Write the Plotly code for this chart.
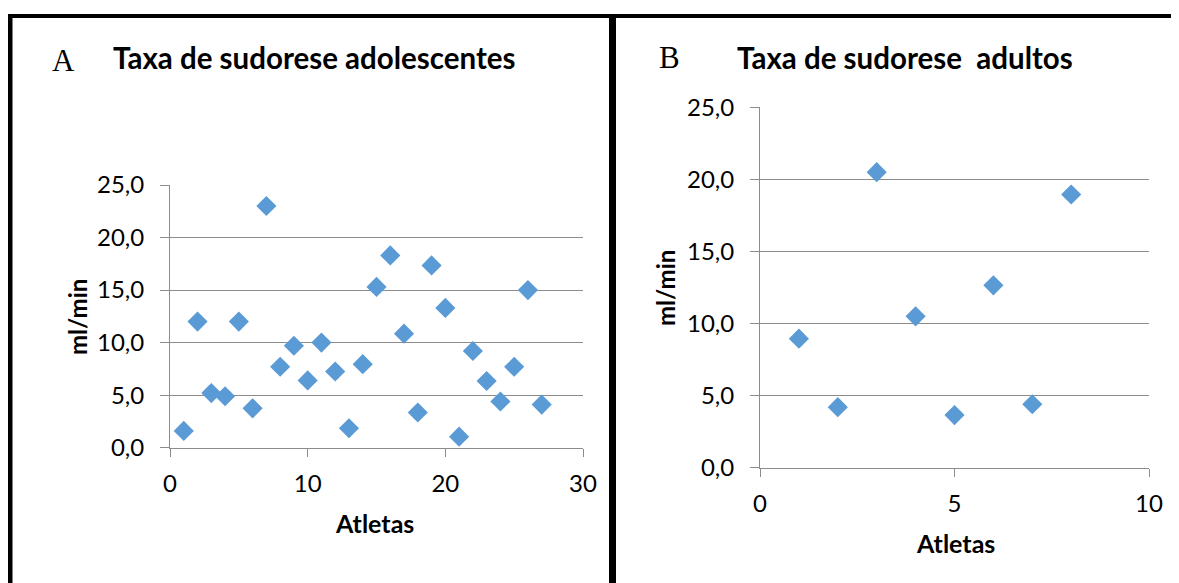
import plotly.graph_objects as go

# Panel A: adolescents
atletas_a = list(range(1, 28))
taxa_a = [1.6, 12.0, 5.2, 4.9, 12.0, 3.75, 23.0, 7.7, 9.7, 6.4, 10.0, 7.25, 1.85, 7.95,
          15.3, 18.3, 10.85, 3.35, 17.35, 13.3, 1.05, 9.2, 6.35, 4.4, 7.7, 15.0, 4.1]

# Panel B: adults
atletas_b = list(range(1, 9))
taxa_b = [8.95, 4.2, 20.5, 10.5, 3.65, 12.65, 4.4, 18.95]

titulo_a = "Taxa de sudorese adolescentes"
titulo_b = "Taxa de sudorese  adultos"
rotulo_x = "Atletas"
rotulo_y = "ml/min"

W, H = 1179, 583
OFF = 8  # page body margin
def px(x):
    return (x - OFF) / W
def py(y):
    return 1 - (y - OFF) / H

MARK = "#5B9BD5"
GRID = "#8C8C8C"
FONT = "Lato, 'Open Sans', sans-serif"
TICKFONT = dict(family=FONT, size=24, color="#000000")

fig = go.Figure()
fig.add_trace(go.Scatter(x=atletas_a, y=taxa_a, mode="markers", xaxis="x", yaxis="y",
                         marker=dict(symbol="diamond", size=15.5, color=MARK), showlegend=False))
fig.add_trace(go.Scatter(x=atletas_b, y=taxa_b, mode="markers", xaxis="x2", yaxis="y2",
                         marker=dict(symbol="diamond", size=15.5, color=MARK), showlegend=False))

def xaxis(domain, rng, dtick, anchor):
    return dict(domain=domain, range=rng, dtick=dtick, tick0=0, anchor=anchor,
                showgrid=False, zeroline=False, showline=True, linecolor=GRID, linewidth=1,
                ticks="outside", ticklen=8, tickcolor=GRID, tickwidth=1, automargin=False,
                tickfont=TICKFONT, ticklabelstandoff=6, fixedrange=True)

def yaxis(domain, anchor):
    return dict(domain=domain, range=[0, 25], dtick=5, tick0=0, anchor=anchor,
                showgrid=True, gridcolor=GRID, gridwidth=1, zeroline=False,
                showline=True, linecolor=GRID, linewidth=1, automargin=False,
                ticks="outside", ticklen=9, tickcolor=GRID, tickwidth=1,
                tickformat=".1f",
                tickfont=TICKFONT, ticklabelstandoff=11, fixedrange=True)

fig.update_layout(
    width=W, height=H, autosize=False,
    margin=dict(l=0, r=0, t=0, b=0, pad=0, autoexpand=False),
    paper_bgcolor="white", plot_bgcolor="white",
    separators=",.",
    xaxis=xaxis([px(170), px(583)], [0, 30], 10, "y"),
    yaxis=yaxis([py(447.7), py(185)], "x"),
    xaxis2=xaxis([px(760), px(1149)], [0, 10], 5, "y2"),
    yaxis2=yaxis([py(467.7), py(107.3)], "x2"),
    showlegend=False,
)

ann = []
bold = dict(family=FONT, size=29.5, color="#000000")
ann.append(dict(text="<b>" + titulo_a + "</b>", x=px(111), y=py(57), xanchor="left", yanchor="middle",
                font=bold))
ann.append(dict(text="<b>" + titulo_b + "</b>", x=px(735), y=py(57), xanchor="left", yanchor="middle",
                font=bold))
serif = dict(family="'Liberation Serif', 'DejaVu Serif', serif", size=31, color="#000000")
ann.append(dict(text="A", x=px(63.5), y=py(60), xanchor="center", yanchor="middle", font=serif))
ann.append(dict(text="B", x=px(669), y=py(58), xanchor="center", yanchor="middle", font=serif))
ax_y_font = dict(family=FONT, size=24, color="#000000")
ax_x_font = dict(family=FONT, size=25, color="#000000")
ann.append(dict(text="<b>" + rotulo_y + "</b>", x=px(77), y=py(317), xanchor="center", yanchor="middle",
                textangle=-90, font=ax_y_font))
ann.append(dict(text="<b>" + rotulo_y + "</b>", x=px(666), y=py(288), xanchor="center", yanchor="middle",
                textangle=-90, font=ax_y_font))
ann.append(dict(text="<b>" + rotulo_x + "</b>", x=px(374), y=py(523), xanchor="center", yanchor="middle",
                font=ax_x_font))
ann.append(dict(text="<b>" + rotulo_x + "</b>", x=px(955), y=py(543), xanchor="center", yanchor="middle",
                font=ax_x_font))
for a in ann:
    a.update(xref="paper", yref="paper", showarrow=False)
fig.update_layout(annotations=ann)

# panel frame borders
shapes = [
    dict(type="line", x0=px(7), x1=1, y0=py(16), y1=py(16), line=dict(color="black", width=4)),
    dict(type="line", x0=px(10), x1=px(10), y0=py(14), y1=0, line=dict(color="black", width=5)),
    dict(type="line", x0=px(612.5), x1=px(612.5), y0=py(14), y1=0, line=dict(color="black", width=7)),
]
for s in shapes:
    s.update(xref="paper", yref="paper")
fig.update_layout(shapes=shapes)

fig.write_html("out.html")
